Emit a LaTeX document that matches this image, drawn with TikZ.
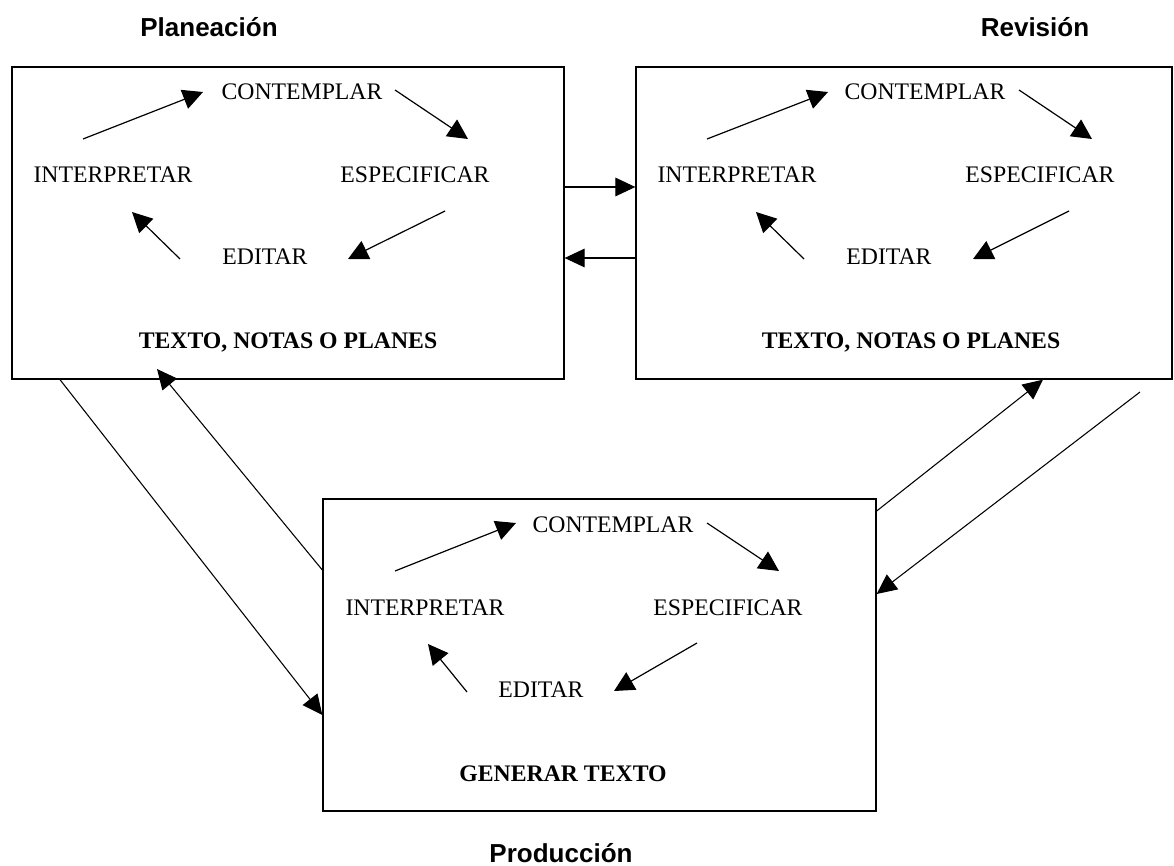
\documentclass[tikz,border=0pt]{standalone}
\usepackage{fontspec}
\setmainfont{Liberation Serif}
\newfontfamily\arialb{Liberation Sans}
\usetikzlibrary{arrows.meta}
\begin{document}
\begin{tikzpicture}[x=0.75pt,y=-0.75pt,
  box/.style={draw,line width=1pt,minimum height=234pt,inner sep=0pt},
  lbl/.style={anchor=base,inner sep=0pt,font=\fontsize{17.8pt}{20pt}\selectfont},
  blbl/.style={anchor=base,inner sep=0pt,font=\fontsize{17.8pt}{20pt}\selectfont\bfseries},
  ttl/.style={anchor=base,inner sep=0pt,font=\arialb\fontsize{19.5pt}{22pt}\selectfont\bfseries},
  arr/.style={line width=0.9pt,-{Triangle[length=15pt,width=15pt]}},
  link/.style={line width=0.8pt,-{Triangle[length=15pt,width=14pt]}}
]
\useasboundingbox (0,0) rectangle (1174,866);

% titles
\node[ttl] (tP) at (209,37) {Planeación};
\node[ttl] (tR) at (1035,37) {Revisión};
\node[ttl] (tPr) at (561,862) {Producción};

% boxes
\node[box,minimum width=414pt] (A) at (288,223) {};
\node[box,minimum width=402pt] (B) at (904,223) {};
\node[box,minimum width=414.75pt] (C) at (599.5,655) {};

% box A texts
\node[lbl] (aC) at (302,100) {CONTEMPLAR};
\node[lbl] (aI) at (113,183) {INTERPRETAR};
\node[lbl] (aE) at (415,183) {ESPECIFICAR};
\node[lbl] (aD) at (265,265) {EDITAR};
\node[blbl] (aT) at (288,348) {TEXTO, NOTAS O PLANES};

% box B texts
\node[lbl] (bC) at (925,100) {CONTEMPLAR};
\node[lbl] (bI) at (737,183) {INTERPRETAR};
\node[lbl] (bE) at (1040,183) {ESPECIFICAR};
\node[lbl] (bD) at (889,265) {EDITAR};
\node[blbl] (bT) at (911,348) {TEXTO, NOTAS O PLANES};

% box C texts
\node[lbl] (cC) at (613,532) {CONTEMPLAR};
\node[lbl] (cI) at (425,615) {INTERPRETAR};
\node[lbl] (cE) at (728,615) {ESPECIFICAR};
\node[lbl] (cD) at (541,697) {EDITAR};
\node[blbl] (cT) at (563,781) {GENERAR TEXTO};

% cycle arrow end points
\coordinate (a1s) at (83,139);  \coordinate (a1e) at (203,92);
\coordinate (a2s) at (395,90);  \coordinate (a2e) at (468,139);
\coordinate (a3s) at (445,211); \coordinate (a3e) at (348,259);
\coordinate (a4s) at (180,259); \coordinate (a4e) at (132,212);

\coordinate (b1s) at (707,139);  \coordinate (b1e) at (828,92);
\coordinate (b2s) at (1019,90);  \coordinate (b2e) at (1092,139);
\coordinate (b3s) at (1069,211); \coordinate (b3e) at (973,259);
\coordinate (b4s) at (804,259);  \coordinate (b4e) at (756,212);

\coordinate (c1s) at (395,571); \coordinate (c1e) at (516,523);
\coordinate (c2s) at (707,523); \coordinate (c2e) at (779,571);
\coordinate (c3s) at (697,643); \coordinate (c3e) at (614,691);
\coordinate (c4s) at (467,692); \coordinate (c4e) at (428,644);

\foreach \p in {a,b,c}{
  \foreach \i in {1,2,3,4}{
    \draw[arr] (\p\i s) -- (\p\i e);
  }
}

% links between boxes
\draw[link] (A.east |- 0,187) -- (B.west |- 0,187);
\draw[link] (B.west |- 0,258) -- (A.east |- 0,258);

\coordinate (caEnd) at (157,369);
\draw[link] (A.south -| 60,0) -- (C.west |- 0,715);
\draw[link] (C.west |- 0,570) -- (caEnd);

\coordinate (bcStart) at (1140,392);
\draw[link] (C.east |- 0,511) -- (B.south -| 1043,0);
\draw[link] (bcStart) -- (C.east |- 0,594);
\end{tikzpicture}
\end{document}
